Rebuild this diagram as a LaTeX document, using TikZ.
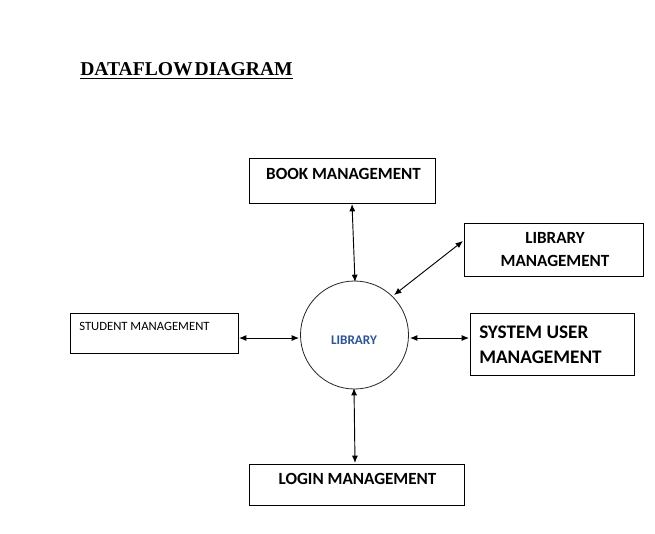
\documentclass[tikz,border=0pt]{standalone}
\usepackage{fontspec}
\setmainfont{Carlito}
\newfontfamily\titlefont{Liberation Serif}
\usetikzlibrary{arrows.meta}
\definecolor{libblue}{RGB}{46,84,150}
\tikzset{
  box/.style={draw=black, line width=0.75pt, inner sep=0pt, anchor=north west},
  lbl/.style={inner sep=0pt, font=\bfseries\fontsize{12.8}{15}\selectfont},
  arr/.style={{Latex[length=5.5pt,width=4.5pt]}-{Latex[length=5.5pt,width=4.5pt]}, line width=0.7pt},
}
\begin{document}
\begin{tikzpicture}[x=0.75pt,y=-0.75pt]
\path[use as bounding box, fill=white] (0,0) rectangle (655,533);
% title
\node[inner sep=0pt, anchor=base west, font=\titlefont\bfseries\fontsize{14.7}{18}\selectfont] (title) at (80,75) {DATAFLOW\hspace{0.1em}DIAGRAM};
\draw[line width=1.4pt] ([yshift=-2.6pt]title.base west) -- ([yshift=-2.6pt]title.base east);
% boxes
\node[box, minimum width=139.5pt, minimum height=33.75pt] (book) at (249,158) {};
\node[box, minimum width=134.25pt, minimum height=39.75pt] (libm) at (464,223) {};
\node[box, minimum width=126pt, minimum height=30pt] (stud) at (70,313) {};
\node[box, minimum width=123pt, minimum height=46.5pt] (sysu) at (470,313) {};
\node[box, minimum width=161.25pt, minimum height=30.75pt] (login) at (249,464) {};
\node[draw=black!85, line width=0.6pt, circle, minimum size=81pt, inner sep=0pt] (lib) at (354.5,335) {};
% texts
\node[lbl, anchor=base] (booktxt) at (343.5,179) {BOOK MANAGEMENT};
\node[lbl, anchor=base] (logintxt) at (357.5,484) {LOGIN MANAGEMENT};
\node[lbl, anchor=base] (libmtxt1) at (555,243) {LIBRARY};
\node[lbl, anchor=base] (libmtxt2) at (555,266) {MANAGEMENT};
\node[lbl, anchor=base west, font=\bfseries\fontsize{14.4}{17}\selectfont] (systxt1) at (479,338) {SYSTEM USER};
\node[lbl, anchor=base west, font=\bfseries\fontsize{14.4}{17}\selectfont] (systxt2) at (479,363) {MANAGEMENT};
\node[inner sep=0pt, anchor=base west, font=\fontsize{9.5}{11}\selectfont] (studtxt) at (79,330) {STUDENT MANAGEMENT};
\node[inner sep=0pt, anchor=base, text=libblue, font=\bfseries\fontsize{9.9}{11}\selectfont] (libtxt) at (354,344) {LIBRARY};
% connector ends
\coordinate (bookA) at (352,205);
\coordinate (libA) at (355,282);
\coordinate (libmA) at (463,241);
\coordinate (libB) at (394,295);
\coordinate (studA) at (239,338);
\coordinate (libC) at (299,338);
\coordinate (libD) at (410,338);
\coordinate (sysA) at (469,338);
\coordinate (libE) at (354,388);
\coordinate (loginA) at (355,463);
% connectors
\draw[arr] (book.south -| bookA) -- (libA);
\draw[arr] (libmA) -- (libB);
\draw[arr] (studA) -- (libC);
\draw[arr] (libD) -- (sysA);
\draw[arr] (libE) -- (loginA);
\end{tikzpicture}
\end{document}
